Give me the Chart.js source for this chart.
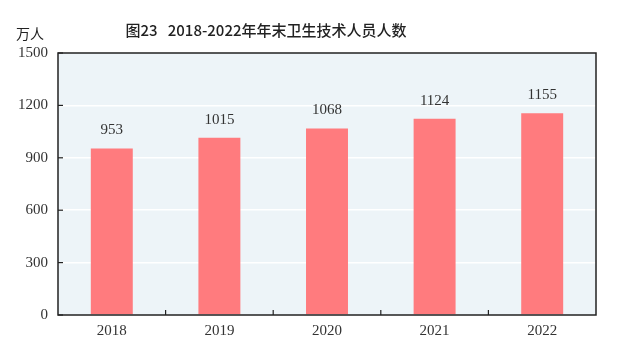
<!DOCTYPE html>
<html>
<head>
<meta charset="utf-8">
<script src="https://cdn.jsdelivr.net/npm/chart.js@4"></script>
<style>
  html, body { margin: 0; padding: 0; background: #fff; }
  #wrap { width: 632px; height: 351px; position: relative; }
</style>
</head>
<body>
<div id="wrap"><canvas id="c"></canvas></div>
<script>
// --- datos del gráfico ---
const years = ['2018', '2019', '2020', '2021', '2022'];
const personal = [953, 1015, 1068, 1124, 1155];
const yTicks = [0, 300, 600, 900, 1200, 1500];
const titulo = '图23   2018-2022年年末卫生技术人员人数';
const unidad = '万人';

const serif = '"Liberation Serif", "DejaVu Serif", serif';
const cjk = '"Noto Sans CJK SC", sans-serif';

// fondo, bordes, marcas interiores y etiquetas
const decoracion = {
    id: 'decoracion',
    beforeDraw(chart) {
        const { ctx, chartArea: a } = chart;
        ctx.save();
        ctx.fillStyle = '#EDF4F8';
        ctx.fillRect(a.left, a.top, a.right - a.left, a.bottom - a.top);
        ctx.restore();
    },
    afterDraw(chart) {
        const { ctx, chartArea: a, scales } = chart;
        ctx.save();
        ctx.strokeStyle = '#222';
        ctx.lineWidth = 1.5;
        ctx.strokeRect(a.left, a.top, a.right - a.left, a.bottom - a.top);
        // marcas eje y
        ctx.lineWidth = 1.2;
        yTicks.forEach(v => {
            const y = scales.y.getPixelForValue(v);
            ctx.beginPath();
            ctx.moveTo(a.left, y);
            ctx.lineTo(a.left + 5, y);
            ctx.stroke();
        });
        // marcas eje x entre categorías
        for (let i = 1; i < years.length; i++) {
            const x = (scales.x.getPixelForValue(i - 1) + scales.x.getPixelForValue(i)) / 2;
            ctx.beginPath();
            ctx.moveTo(x, a.bottom);
            ctx.lineTo(x, a.bottom - 5);
            ctx.stroke();
        }
        // valores sobre las barras
        ctx.fillStyle = '#333';
        ctx.font = '15px ' + serif;
        ctx.textAlign = 'center';
        ctx.textBaseline = 'middle';
        chart.getDatasetMeta(0).data.forEach((bar, i) => {
            ctx.fillText(String(personal[i]), bar.x, bar.y - 18);
        });
        // título y unidad
        ctx.fillStyle = '#222';
        ctx.font = '500 15px ' + cjk;
        ctx.fillText(titulo, 266, 30);
        ctx.font = '14px ' + cjk;
        ctx.fillText(unidad, 30, 34);
        ctx.restore();
    }
};

new Chart(document.getElementById('c').getContext('2d'), {
    type: 'bar',
    data: {
        labels: years,
        datasets: [{
            data: personal,
            backgroundColor: '#FF7B7E',
            borderWidth: 0,
            barPercentage: 0.39,
            categoryPercentage: 1
        }]
    },
    options: {
        responsive: true,
        maintainAspectRatio: false,
        animation: false,
        devicePixelRatio: 1,
        layout: { padding: { top: 53, right: 36, left: 0, bottom: 0 } },
        plugins: {
            legend: { display: false },
            tooltip: { enabled: false },
            title: { display: false }
        },
        scales: {
            x: {
                grid: { display: false, drawTicks: false },
                border: { display: false },
                ticks: { color: '#333', font: { family: serif, size: 15 }, padding: 7 },
                afterFit: s => { s.height = 36; }
            },
            y: {
                min: 0,
                max: 1500,
                afterBuildTicks: s => { s.ticks = yTicks.map(v => ({ value: v })); },
                grid: { color: ctx => (ctx.tick && (ctx.tick.value === 0 || ctx.tick.value === 1500)) ? 'rgba(0,0,0,0)' : '#ffffff', lineWidth: 1.5, drawTicks: false },
                border: { display: false },
                ticks: { color: '#333', font: { family: serif, size: 15 }, padding: 10, callback: v => String(v) },
                afterFit: s => { s.width = 58; }
            }
        }
    },
    plugins: [decoracion]
});
</script>
</body>
</html>
